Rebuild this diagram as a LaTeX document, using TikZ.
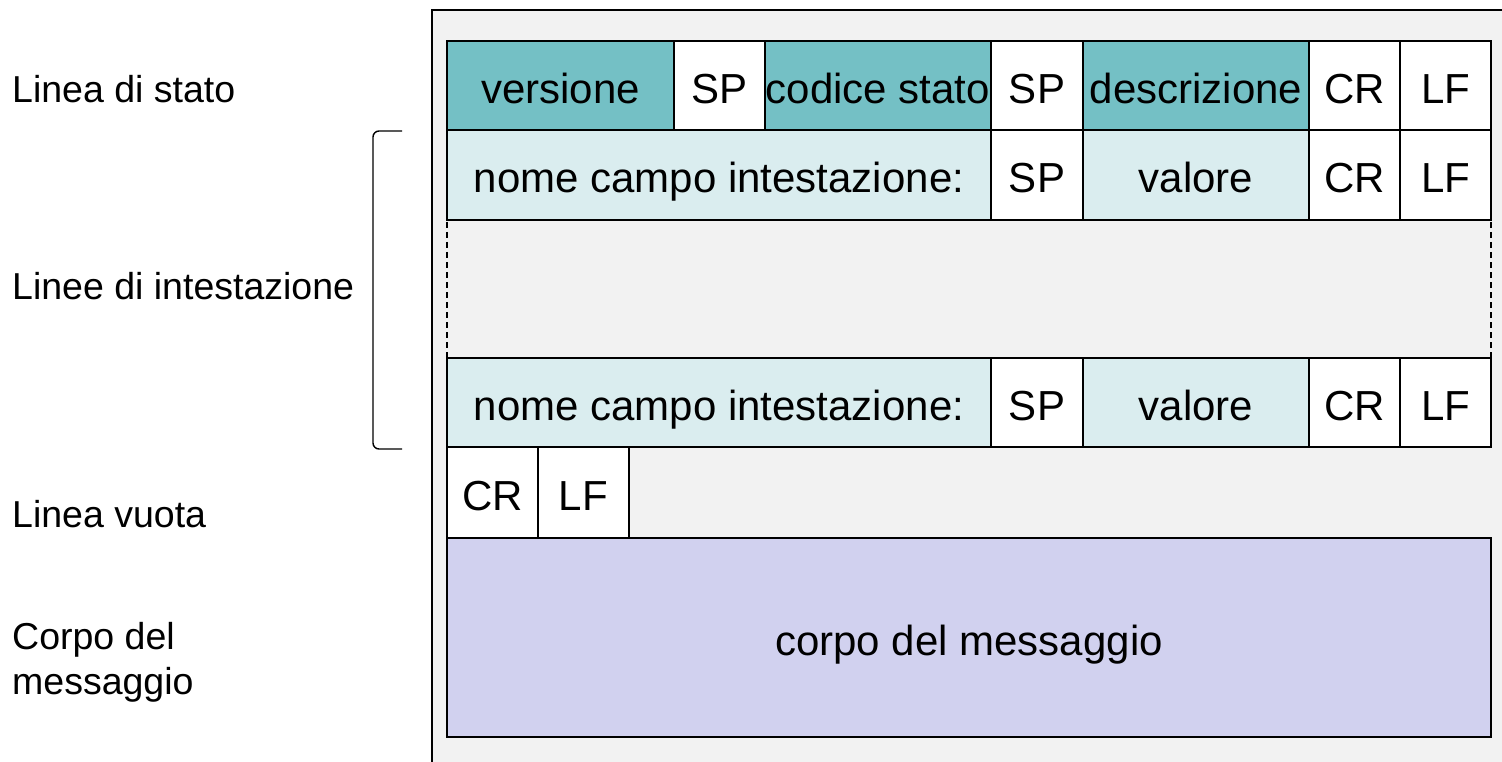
\documentclass[tikz,border=0pt]{standalone}
\usepackage{fontspec}
\setmainfont{Liberation Sans}
\definecolor{bgfill}{HTML}{F2F2F2}
\definecolor{tealdark}{HTML}{74C0C5}
\definecolor{teallight}{HTML}{DAEDEF}
\definecolor{bodyfill}{HTML}{D1D1EF}
\tikzset{
  cell/.style={draw=black, line width=1.4pt, inner sep=0pt, outer sep=0pt, anchor=north west,
    font=\fontsize{42}{48}\selectfont, text height=36pt, text depth=0pt, fill=white},
  lbl/.style={anchor=base west, inner sep=0pt, font=\fontsize{37.5}{45}\selectfont, align=left},
}
\begin{document}
\begin{tikzpicture}[x=1pt,y=-1pt]
\useasboundingbox (0,0) rectangle (1502,762);
% outer frame
\fill[bgfill] (432,10) rectangle (1502,762);
\draw[line width=1.4pt] (432,762) -- (432,10) -- (1502,10);
% left labels
\node[lbl] (l1) at (12,103) {Linea di stato};
\node[lbl] (l2) at (12,299) {Linee di intestazione};
\node[lbl] (l3) at (12,527) {Linea vuota};
\node[lbl] (l4a) at (12,649) {Corpo del};
\node[lbl] (l4b) at (12,694) {messaggio};
% bracket
\draw[line width=1.4pt, rounded corners=6pt] (402,131) -- (373,131) -- (373,449) -- (402,449);
% row 1 : status line
\node[cell, fill=tealdark, minimum width=227, minimum height=89] (ver) at (447,41) {versione};
\node[cell, minimum width=91, minimum height=89] (sp1) at (674,41) {SP};
\node[cell, fill=tealdark, minimum width=226, minimum height=89] (cod) at (765,41) {codice stato};
\node[cell, minimum width=92, minimum height=89] (sp2) at (991,41) {SP};
\node[cell, fill=tealdark, minimum width=226, minimum height=89] (des) at (1083,41) {descrizione};
\node[cell, minimum width=91, minimum height=89] (cr1) at (1309,41) {CR};
\node[cell, minimum width=91, minimum height=89] (lf1) at (1400,41) {LF};
% row 2 : header line
\node[cell, fill=teallight, minimum width=544, minimum height=90] (nc1) at (447,130) {nome campo intestazione:};
\node[cell, minimum width=92, minimum height=90] (sp3) at (991,130) {SP};
\node[cell, fill=teallight, minimum width=226, minimum height=90] (va1) at (1083,130) {valore};
\node[cell, minimum width=91, minimum height=90] (cr2) at (1309,130) {CR};
\node[cell, minimum width=91, minimum height=90] (lf2) at (1400,130) {LF};
% dashed gap
\draw[line width=1.2pt, dash pattern=on 6pt off 4pt] (447,222) -- (447,358);
\draw[line width=1.2pt, dash pattern=on 6pt off 4pt] (1491,222) -- (1491,358);
% row 3 : header line
\node[cell, fill=teallight, minimum width=544, minimum height=89] (nc2) at (447,358) {nome campo intestazione:};
\node[cell, minimum width=92, minimum height=89] (sp4) at (991,358) {SP};
\node[cell, fill=teallight, minimum width=226, minimum height=89] (va2) at (1083,358) {valore};
\node[cell, minimum width=91, minimum height=89] (cr3) at (1309,358) {CR};
\node[cell, minimum width=91, minimum height=89] (lf3) at (1400,358) {LF};
% row 4 : empty line
\node[cell, minimum width=91, minimum height=91] (cr4) at (447,447) {CR};
\node[cell, minimum width=91, minimum height=91] (lf4) at (538,447) {LF};
% body
\node[cell, fill=bodyfill, minimum width=1044, minimum height=199] (body) at (447,538) {corpo del messaggio};
\end{tikzpicture}
\end{document}
